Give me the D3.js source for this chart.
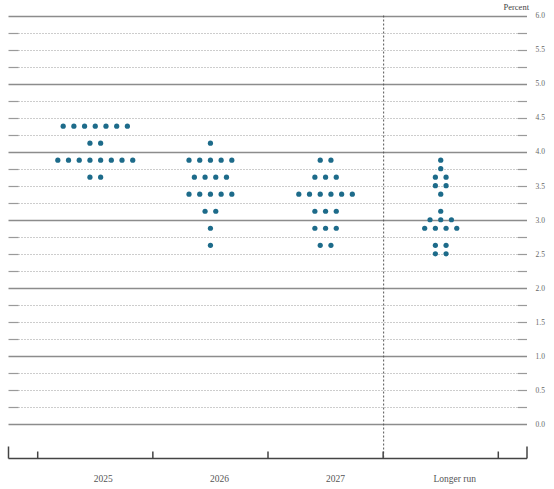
<!DOCTYPE html>
<html>
<head>
<meta charset="utf-8">
<script src="https://cdn.jsdelivr.net/npm/d3@7"></script>
<style>
  html, body { margin: 0; padding: 0; background: #ffffff; }
  svg { display: block; }
</style>
</head>
<body>
<svg id="chart" width="554" height="489"></svg>
<script>
// ---- data ----
const categories = ["2025", "2026", "2027", "Longer run"];
// Each participant's projection of the midpoint of the federal funds target range (percent)
const proj2025 = [4.375,4.375,4.375,4.375,4.375,4.375,4.375, 4.125,4.125,
  3.875,3.875,3.875,3.875,3.875,3.875,3.875,3.875, 3.625,3.625];
const proj2026 = [4.125, 3.875,3.875,3.875,3.875,3.875, 3.625,3.625,3.625,3.625,
  3.375,3.375,3.375,3.375,3.375, 3.125,3.125, 2.875, 2.625];
const proj2027 = [3.875,3.875, 3.625,3.625,3.625, 3.375,3.375,3.375,3.375,3.375,3.375,
  3.125,3.125,3.125, 2.875,2.875,2.875, 2.625,2.625];
const projLonger = [3.875, 3.75, 3.625,3.625, 3.5,3.5, 3.375, 3.125, 3.0,3.0,3.0,
  2.875,2.875,2.875,2.875, 2.625,2.625, 2.5,2.5];
const projections = [proj2025, proj2026, proj2027, projLonger];
const gridValues = d3.range(0, 6.0001, 0.25);
const tickLabels = ["0.0","0.5","1.0","1.5","2.0","2.5","3.0","3.5","4.0","4.5","5.0","5.5","6.0"];
const unitLabel = "Percent";

// ---- layout ----
const svg = d3.select("#chart");
const plotLeft = 8.5, plotRight = 527;
const y = d3.scaleLinear().domain([0, 6]).range([424, 15.5]);
const x = d3.scaleBand().domain(categories).range([37.7, 498.3]).padding(0);
const axisY = 458.5;
const dotColor = "#1d6b8a";
const dotSpacing = 10.7;

// gridlines
const grid = svg.append("g");
gridValues.forEach(v => {
  const yy = Math.round(y(v)) + 0.5;
  const isInt = Math.abs(v - Math.round(v)) < 1e-6;
  if (isInt) {
    grid.append("line").attr("x1", plotLeft).attr("x2", plotRight)
      .attr("y1", yy).attr("y2", yy)
      .attr("stroke", "#8c8c8c").attr("stroke-width", 1.6);
  } else {
    grid.append("line").attr("x1", plotLeft + 10).attr("x2", plotRight - 9)
      .attr("y1", yy).attr("y2", yy)
      .attr("stroke", "#9a9a9a").attr("stroke-width", 1).attr("stroke-dasharray", "1,2");
    grid.append("line").attr("x1", plotLeft).attr("x2", plotLeft + 10)
      .attr("y1", yy).attr("y2", yy).attr("stroke", "#9a9a9a").attr("stroke-width", 1.2);
    grid.append("line").attr("x1", plotRight - 9).attr("x2", plotRight)
      .attr("y1", yy).attr("y2", yy).attr("stroke", "#9a9a9a").attr("stroke-width", 1.2);
  }
});

// y tick labels on the right
const yLabelVals = tickLabels.map(t => +t);
svg.append("g").selectAll("text").data(tickLabels).join("text")
  .attr("x", 535.5)
  .attr("y", (d, i) => y(yLabelVals[i]) + 2.8)
  .attr("font-family", "'Liberation Serif', 'DejaVu Serif', serif")
  .attr("font-size", 7.5)
  .attr("fill", "#666")
  .text(d => d);

svg.append("text")
  .attr("x", 529).attr("y", 9.5)
  .attr("text-anchor", "end")
  .attr("font-family", "'Liberation Serif', 'DejaVu Serif', serif")
  .attr("font-size", 8.5)
  .attr("fill", "#444")
  .text(unitLabel);

// dashed separator before "Longer run"
svg.append("line")
  .attr("x1", x("Longer run") + 0.5).attr("x2", x("Longer run") + 0.5)
  .attr("y1", y(6)).attr("y2", axisY)
  .attr("stroke", "#555").attr("stroke-width", 1).attr("stroke-dasharray", "2,2");

// x axis
const xAxis = d3.axisBottom(x).tickSize(0).tickFormat("");
const axisG = svg.append("g").attr("transform", `translate(0,${axisY})`).call(xAxis);
axisG.select(".domain").remove();
axisG.append("line").attr("x1", plotLeft).attr("x2", plotRight).attr("y1", 0).attr("y2", 0)
  .attr("stroke", "#444").attr("stroke-width", 1.5);
const boundaries = categories.map(c => x(c)).concat([x(categories[categories.length - 1]) + x.bandwidth()]);
axisG.selectAll(".bnd").data(boundaries).join("line").attr("class", "bnd")
  .attr("x1", d => d).attr("x2", d => d).attr("y1", -7).attr("y2", 0)
  .attr("stroke", "#444").attr("stroke-width", 1.5);
axisG.selectAll(".endt").data([plotLeft, plotRight]).join("line").attr("class", "endt")
  .attr("x1", d => d).attr("x2", d => d).attr("y1", -12).attr("y2", 0)
  .attr("stroke", "#444").attr("stroke-width", 1.5);

const labelOffsets = [8, 9, 10, 14];
svg.append("g").selectAll("text").data(categories).join("text")
  .attr("x", (d, i) => x(d) + x.bandwidth() / 2 + labelOffsets[i])
  .attr("y", 482)
  .attr("text-anchor", "middle")
  .attr("font-family", "'Liberation Serif', 'DejaVu Serif', serif")
  .attr("font-size", 9.5)
  .attr("fill", "#555")
  .text(d => d);

// dots
const dots = [];
projections.forEach((arr, ci) => {
  const counts = d3.rollups(arr, v => v.length, d => d);
  counts.forEach(([val, n]) => {
    for (let i = 0; i < n; i++) {
      dots.push({ cat: categories[ci], val, offset: (i - (n - 1) / 2) * dotSpacing });
    }
  });
});
svg.append("g").selectAll("circle").data(dots).join("circle")
  .attr("cx", d => x(d.cat) + x.bandwidth() / 2 + d.offset)
  .attr("cy", d => y(d.val))
  .attr("r", 2.6)
  .attr("fill", dotColor);
</script>
</body>
</html>
